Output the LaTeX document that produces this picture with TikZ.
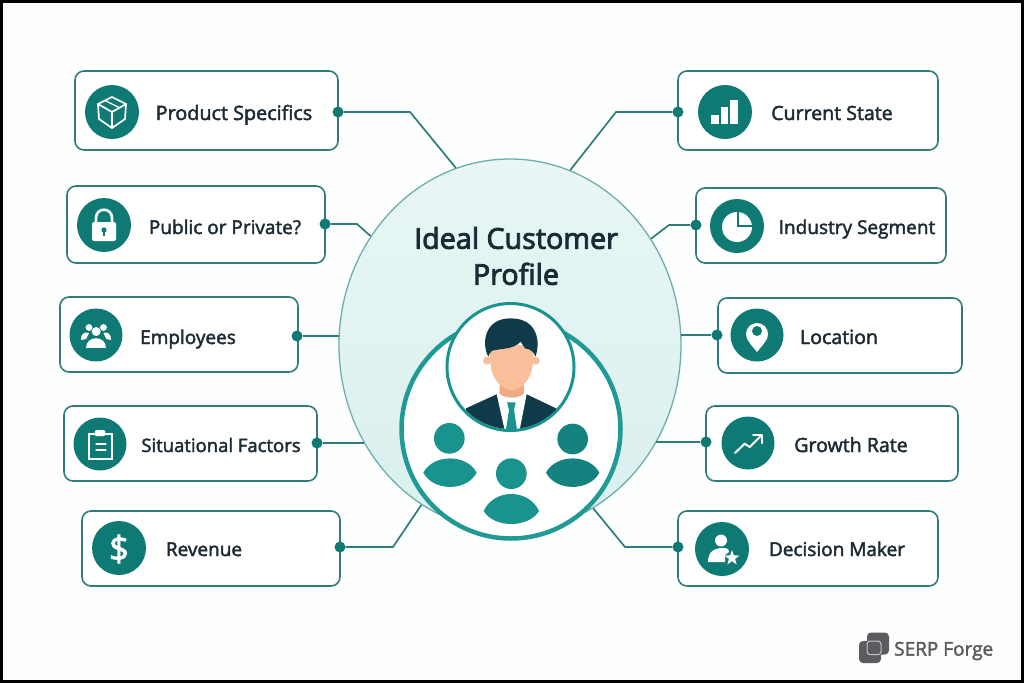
\documentclass[tikz,border=0pt]{standalone}
\usepackage{fontspec}
\usetikzlibrary{shapes.geometric}
\setmainfont{Open Sans}
\newfontfamily\lblfont{Open Sans}[FakeBold=2.2]
\newfontfamily\ttlfont{Open Sans}[FakeBold=3]
\definecolor{bgc}{HTML}{FDFEFE}
\definecolor{teal1}{HTML}{0F7A74}
\definecolor{edge}{HTML}{2F7C7A}
\definecolor{hubedge}{HTML}{6FAEAC}
\definecolor{hubtop}{HTML}{E8F6F5}
\definecolor{hubbot}{HTML}{D9F0EE}
\definecolor{ink}{HTML}{1C2A33}
\definecolor{ringc}{HTML}{1F9A94}
\definecolor{grp}{HTML}{18938E}
\definecolor{grpd}{HTML}{14827E}
\definecolor{hair}{HTML}{0E3A4A}
\definecolor{skin}{HTML}{F9BE9A}
\definecolor{neckc}{HTML}{EFA985}
\definecolor{logoc}{HTML}{5B5C5F}
\tikzset{
 cardbox/.style={draw=edge,line width=1.6pt,fill=white,rounded corners=9pt,inner sep=0pt},
 iconbg/.style={circle,fill=teal1,inner sep=0pt,minimum size=53pt},
 dotn/.style={circle,fill=teal1,inner sep=0pt,minimum size=11pt},
 link/.style={draw=edge,line width=1.7pt},
 lbl/.style={font=\lblfont\fontsize{19}{22}\selectfont,text=ink,inner sep=0pt,anchor=base},
 wl/.style={draw=white,line width=1.7pt,line cap=round,line join=round}
}
\begin{document}
\begin{tikzpicture}[x=1pt,y=-1pt]
\useasboundingbox (0,0) rectangle (1024,683);
\fill[black] (0,0) rectangle (1024,683);
\fill[bgc] (2.5,2.5) rectangle (1021,680);

% hub
\node[ellipse,draw=hubedge,line width=1.3pt,top color=hubtop,bottom color=hubbot,minimum width=342pt,minimum height=372pt,inner sep=0pt] (hub) at (510,345) {};

% cards
\node[cardbox,minimum width=263pt,minimum height=79pt] (c1) at (206.5,110.5) {};
\node[cardbox,minimum width=258pt,minimum height=77pt] (c2) at (196,224.5) {};
\node[cardbox,minimum width=238pt,minimum height=75pt] (c3) at (179,334.5) {};
\node[cardbox,minimum width=253pt,minimum height=75pt] (c4) at (190.5,443.5) {};
\node[cardbox,minimum width=258pt,minimum height=75pt] (c5) at (211,548.5) {};
\node[cardbox,minimum width=260pt,minimum height=79pt] (c6) at (808,110.5) {};
\node[cardbox,minimum width=250pt,minimum height=75pt] (c7) at (821,225.5) {};
\node[cardbox,minimum width=244pt,minimum height=75pt] (c8) at (840,335.5) {};
\node[cardbox,minimum width=252pt,minimum height=75pt] (c9) at (832,443.5) {};
\node[cardbox,minimum width=260pt,minimum height=75pt] (c10) at (808,548.5) {};

% dots
\node[dotn] (d1) at (338,112) {};
\node[dotn] (d2) at (325,224) {};
\node[dotn] (d3) at (297,336) {};
\node[dotn] (d4) at (317,443) {};
\node[dotn] (d5) at (340,547) {};
\node[dotn] (d6) at (678,112) {};
\node[dotn] (d7) at (696,225) {};
\node[dotn] (d8) at (717,335) {};
\node[dotn] (d9) at (706,442) {};
\node[dotn] (d10) at (678,547) {};

% elbows
\coordinate (e1) at (410,112);
\coordinate (e2) at (357,224);
\coordinate (e5) at (393,547);
\coordinate (e6) at (616,112);
\coordinate (e7) at (669,225);
\coordinate (e10) at (625,547);

% connectors
\draw[link] (d1) -- (e1) -- (hub.107.9);
\draw[link] (d2) -- (e2) -- (hub.142.4);
\draw[link] (d3) -- (hub.177 |- d3);
\draw[link] (d4) -- (hub.214 |- d4);
\draw[link] (d5) -- (e5) -- (hub.241.9);
\draw[link] (d6) -- (e6) -- (hub.71.3);
\draw[link] (d7) -- (e7) -- (hub.37);
\draw[link] (d8) -- (hub.3.3 |- d8);
\draw[link] (d9) -- (hub.326.8 |- d9);
\draw[link] (d10) -- (e10) -- (hub.297.8);

% title
\node[font=\ttlfont\fontsize{28.7}{36}\selectfont,text=ink,align=center,inner sep=0pt] (title) at (516,256) {Ideal Customer\\Profile};

% group ring
\node[circle,draw=ringc,fill=white,line width=4.5pt,minimum size=219pt,inner sep=0pt] (ring) at (511,429) {};
% group people (zoom coordinates)
\begin{scope}[shift={(390,295)},scale=1/3]
 \fill[grp] (178,430) circle (46);
 \fill[grp] (100,533) .. controls (130,476) and (230,476) .. (260,533) .. controls (230,590) and (130,590) .. (100,533);
 \fill[grpd] (548,432) circle (46);
 \fill[grpd] (468,533) .. controls (498,476) and (598,476) .. (628,533) .. controls (598,590) and (498,590) .. (468,533);
 \fill[grp] (364,536) circle (46);
 \fill[grp] (281,648) .. controls (312,580) and (416,580) .. (447,648) .. controls (416,700) and (312,700) .. (281,648);
\end{scope}

% person
\node[circle,draw=grp,fill=white,line width=3pt,minimum size=127pt,inner sep=0pt] (face) at (510.5,367) {};
\begin{scope}[shift={(390,295)},scale=1/3]
 \begin{scope}
  \clip (362,215) circle (187);
  \fill[hair] (228,340) -- (322,297) -- (408,297) -- (498,340) -- (498,420) -- (228,420) -- cycle;
  \fill[white] (320,297) -- (410,297) -- (388,410) -- (345,410) -- cycle;
  \fill[grp] (351,322) -- (377,322) -- (372,345) -- (382,410) -- (347,410) -- (357,345) -- cycle;
 \end{scope}
 \fill[neckc] (330,255) -- (400,255) -- (402,295) .. controls (385,312) and (345,312) .. (328,295) -- cycle;
 \fill[skin] (291,197) circle (12);
 \fill[skin] (437,197) circle (12);
 \fill[skin] (298,150) -- (432,150) -- (428,210) .. controls (425,250) and (395,285) .. (365,285) .. controls (335,285) and (305,250) .. (302,210) -- cycle;
 \fill[hair] (295,185) .. controls (275,150) and (280,70) .. (362,70) .. controls (445,70) and (452,145) .. (436,185) .. controls (432,170) and (420,162) .. (405,160) -- (392,140) .. controls (370,165) and (325,160) .. (305,168) .. controls (300,172) and (298,178) .. (295,185) -- cycle;
\end{scope}

% icon discs
\node[iconbg,minimum size=54pt] (i1) at (112,112) {};
\node[iconbg,minimum size=54pt] (i2) at (104,225) {};
\node[iconbg] (i3) at (96,335) {};
\node[iconbg] (i4) at (100,444) {};
\node[iconbg,minimum size=54pt] (i5) at (119,548) {};
\node[iconbg,minimum size=54pt] (i6) at (725,112) {};
\node[iconbg,minimum size=54pt] (i7) at (737,226) {};
\node[iconbg] (i8) at (757,335) {};
\node[iconbg] (i9) at (748,443) {};
\node[iconbg,minimum size=54pt] (i10) at (722,549) {};

% cube
\begin{scope}[shift={(112,112)}]
 \draw[wl] (0,-15) -- (14,-8) -- (13,7) -- (0,16) -- (-13,7) -- (-14,-8) -- cycle;
 \draw[wl] (-14,-8) -- (0,0) -- (14,-8) (0,0) -- (0,16);
 \draw[wl,line width=1.3pt] (-6,-11) -- (7,-4.5);
\end{scope}
% lock
\begin{scope}[shift={(104,225)}]
 \draw[white,line width=2.6pt] (-8,-2) -- (-8,-7) .. controls (-8,-18) and (8,-18) .. (8,-7) -- (8,-2);
 \fill[white,rounded corners=2pt] (-12,-3) rectangle (12,16);
 \fill[teal1] (0,5) circle (2.6);
 \fill[teal1] (-1,5) rectangle (1,11);
\end{scope}
% employees
\begin{scope}[shift={(96,335)}]
 \fill[white] (-7,-7.5) circle (3.4);
 \fill[white] (7.5,-7.5) circle (3.4);
 \fill[white] (0.2,-3.5) circle (4.5);
 \fill[white] (-15,5) .. controls (-15,-3) and (-10,-3) .. (-7,-2) -- (-10,4) -- cycle;
 \fill[white] (15,5) .. controls (15,-3) and (10,-3) .. (7.5,-2) -- (10.5,4) -- cycle;
 \fill[white] (-10,12.5) .. controls (-10,0) and (10,0) .. (10,12.5) -- cycle;
\end{scope}
% clipboard
\begin{scope}[shift={(100,444)}]
 \draw[white,line width=1.5pt] (-11,-10) rectangle (12,15);
 \fill[white,rounded corners=1pt] (-5,-14) rectangle (5,-8);
 \draw[wl,line width=1.3pt] (-4,0) -- (6,0) (-4,6) -- (6,6);
\end{scope}
% dollar
\node[font=\lblfont\fontsize{35}{35}\selectfont,text=white,inner sep=0pt] (dollar) at (119,549) {\$};
% bars
\begin{scope}[shift={(725,112)}]
 \fill[white] (-13.7,2.7) rectangle (-6.3,12);
 \fill[white] (-4.3,-4.7) rectangle (3,12);
 \fill[white] (5,-11.7) rectangle (12.7,12);
\end{scope}
% pie
\begin{scope}[shift={(737,226)}]
 \fill[white] (0,1) circle (15);
 \draw[teal1,line width=1.6pt] (1,-15) -- (1,0) -- (16,0);
\end{scope}
% pin
\begin{scope}[shift={(757,335)}]
 \fill[white] (0,-1) circle (11);
 \fill[white] (-10.5,2.5) .. controls (-8,8) and (-4,12) .. (0,17) .. controls (4,12) and (8,8) .. (10.5,2.5) -- cycle;
 \fill[teal1] (0,-4) circle (5);
\end{scope}
% growth
\begin{scope}[shift={(748,443)}]
 \draw[wl,line width=2pt] (-13,10) -- (-3.3,0.7) -- (1.7,4) -- (13,-7.3);
 \draw[wl,line width=2pt] (5,-8.5) -- (14,-8.5) -- (14,0);
\end{scope}
% decision maker
\begin{scope}[shift={(722,549)}]
 \fill[white] (-1,-8.5) circle (6);
 \fill[white] (-14,13) .. controls (-14,2) and (-7,-1) .. (1,-1) .. controls (6,-1) and (8,1) .. (7,3) -- (3,6) -- (3,13) -- cycle;
 \begin{scope}[shift={(10,9)}]
  \fill[white] (-90:8) -- (-54:3.2) -- (-18:8) -- (18:3.2) -- (54:8) -- (90:3.2) -- (126:8) -- (162:3.2) -- (198:8) -- (234:3.2) -- cycle;
 \end{scope}
\end{scope}

% labels
\node[lbl,font=\lblfont\fontsize{19.8}{22}\selectfont] (t1) at (234,120) {Product Specifics};
\node[lbl] (t2) at (225,234) {Public or Private?};
\node[lbl] (t3) at (188,344) {Employees};
\node[lbl,font=\lblfont\fontsize{18.5}{22}\selectfont] (t4) at (221,452) {Situational Factors};
\node[lbl] (t5) at (204,556) {Revenue};
\node[lbl,font=\lblfont\fontsize{19.6}{22}\selectfont] (t6) at (832,120) {Current State};
\node[lbl] (t7) at (857,234) {Industry Segment};
\node[lbl,font=\lblfont\fontsize{19.6}{22}\selectfont] (t8) at (839,344) {Location};
\node[lbl,font=\lblfont\fontsize{19.6}{22}\selectfont] (t9) at (851,452) {Growth Rate};
\node[lbl] (t10) at (837,556) {Decision Maker};

% logo
\fill[logoc,rounded corners=4pt] (867,632.5) rectangle (889,654.5);
\fill[logoc,rounded corners=4pt] (859,641) rectangle (881,663);
\draw[white!65!logoc,line width=1pt,rounded corners=3pt] (867,641) rectangle (881,654.5);
\node[font=\lblfont\fontsize{19}{22}\selectfont,text=logoc,inner sep=0pt,anchor=west] (logo) at (894,651) {SERP Forge};
\end{tikzpicture}
\end{document}
